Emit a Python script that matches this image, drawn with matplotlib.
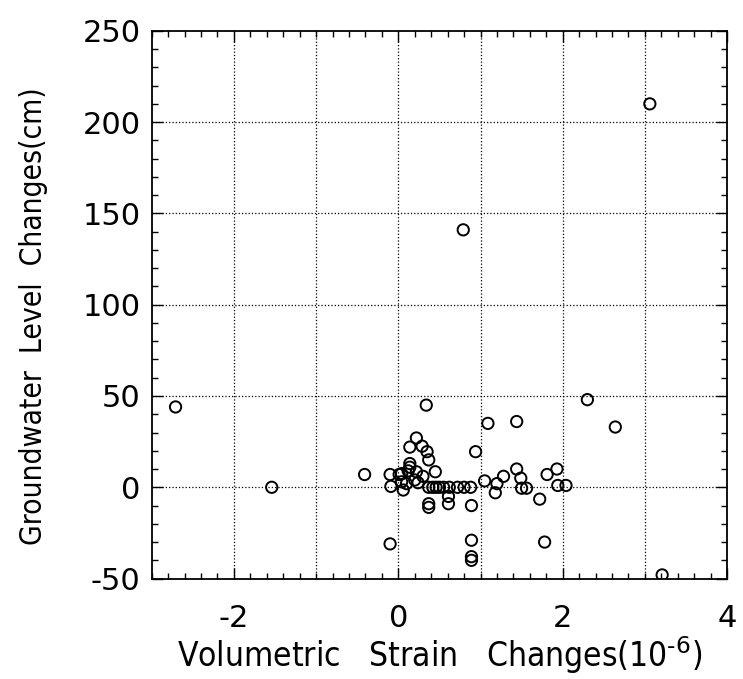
import matplotlib
matplotlib.use('Agg')
import matplotlib.pyplot as plt
from matplotlib.ticker import MultipleLocator

plt.rcParams['axes.unicode_minus'] = False

# Данные: объёмная деформация (10^-6) и изменение уровня грунтовых вод (см)
strain = [-2.71, -1.54, 3.06, 0.79, 3.21, 2.30, 2.64, 1.44, 1.09, 0.34,
          -0.41, -0.10, -0.09, 0.01, 0.22, 0.14, 0.29, 0.35, 0.37, 0.14,
          0.14, 0.12, 0.22, 0.45, 0.04, 0.30, 0.04, 0.10, 0.20, 0.24,
          0.06, 0.37, 0.42, 0.46, 0.50, 0.55, 0.62, 0.72, 0.80, 0.88,
          0.61, 0.61, 0.37, 0.37, 0.89, -0.10, 0.89, 0.89, 0.89, 0.94,
          1.05, 1.20, 1.18, 1.28, 1.44, 1.49, 1.50, 1.56, 1.72, 1.78,
          1.81, 1.93, 1.94, 2.04]
water = [44, 0, 210, 141, -48, 48, 33, 36, 35, 45,
         7, 7, 0.5, 7, 27, 22, 22.5, 19.5, 15, 13,
         11, 9, 8.5, 8.5, 7.5, 6, 3, 2, 4, 2.5,
         -1.5, 0, 0, 0, 0, 0, 0, 0, 0, 0,
         -5, -9, -9, -11, -10, -31, -29, -38, -40, 19.5,
         3.5, 2, -3, 6, 10, 5, -0.5, -0.5, -6.5, -30,
         7, 10, 1, 1]

x_ticks = [-2, 0, 2, 4]
y_ticks = [-50, 0, 50, 100, 150, 200, 250]

fig = plt.figure(figsize=(7.43, 6.79), dpi=100)
ax = fig.add_axes([0.2042, 0.1479, 0.7744, 0.8067])

ax.scatter(strain, water, s=66, facecolors='none', edgecolors='black',
           linewidths=1.4, zorder=3)

ax.set_xlim(-3, 4)
ax.set_ylim(-50, 250)
ax.set_xticks(x_ticks)
ax.set_yticks(y_ticks)
ax.xaxis.set_minor_locator(MultipleLocator(0.2))
ax.yaxis.set_minor_locator(MultipleLocator(10))

# сетка по целым значениям деформации и через 50 см
for xv in range(-2, 4):
    ax.axvline(xv, color='black', linestyle=':', linewidth=0.9, zorder=1)
for yv in range(0, 250, 50):
    ax.axhline(yv, color='black', linestyle=':', linewidth=0.9, zorder=1)

ax.tick_params(which='both', direction='in', top=True, right=True,
               width=1.0, color='black')
ax.tick_params(which='major', length=8, labelsize=22)
ax.tick_params(axis='x', which='major', pad=18)
ax.tick_params(axis='y', which='major', pad=8)
ax.tick_params(which='minor', length=4)
for sp in ax.spines.values():
    sp.set_linewidth(1.3)

ax.set_xlabel('Volumetric   Strain   Changes(10$^{\\text{-6}}$)', fontsize=24,
              fontstretch='condensed', labelpad=1)
ax.set_ylabel('Groundwater  Level  Changes(cm)', fontsize=21.5,
              fontstretch='condensed')
ax.yaxis.set_label_coords(-0.18, 0.48)

plt.savefig('out.png', dpi=100)
plt.close()
